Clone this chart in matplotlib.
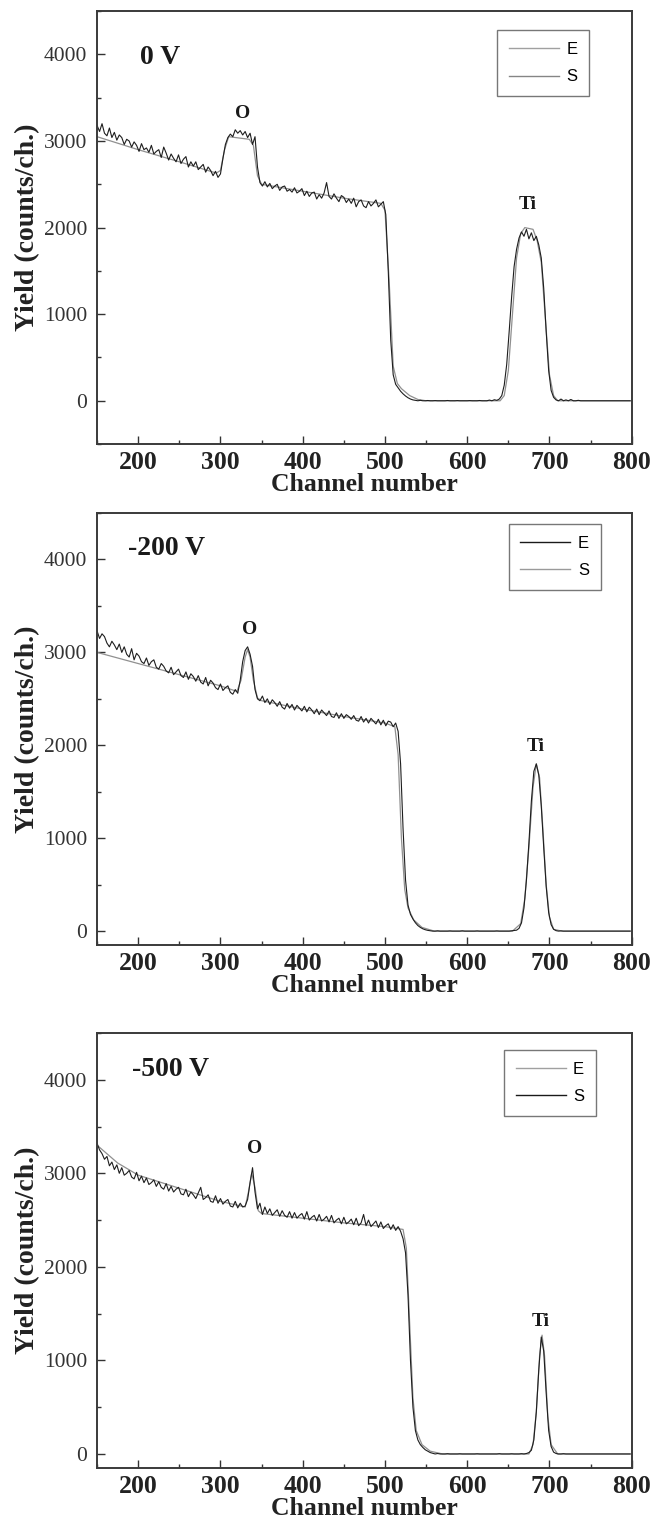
import numpy as np
import matplotlib
matplotlib.use('Agg')
from matplotlib import pyplot as plt
from matplotlib.lines import Line2D
from matplotlib.ticker import MultipleLocator

# Measured spectra (E), one value every 3 channels from 150 to 798
channels = np.arange(150, 801, 3)

exp_0v = [
    3180, 3110, 3200, 3090, 3060, 3150, 3040, 3100, 3010, 3070,
    3040, 2960, 3020, 3000, 2930, 2990, 2950, 2880, 2970, 2900,
    2920, 2870, 2950, 2850, 2880, 2900, 2810, 2930, 2860, 2780,
    2850, 2800, 2760, 2840, 2740, 2790, 2820, 2700, 2760, 2710,
    2760, 2670, 2700, 2730, 2640, 2700, 2660, 2600, 2650, 2580,
    2620, 2800, 2960, 3040, 3080, 3050, 3130, 3090, 3120, 3070,
    3110, 3040, 3090, 2960, 3050, 2700, 2520, 2480, 2530, 2470,
    2510, 2450, 2480, 2500, 2430, 2470, 2480, 2420, 2440, 2410,
    2460, 2400, 2420, 2450, 2370, 2420, 2360, 2400, 2410, 2330,
    2380, 2340, 2400, 2520, 2360, 2330, 2390, 2340, 2300, 2370,
    2350, 2290, 2330, 2280, 2340, 2240, 2300, 2320, 2250, 2230,
    2300, 2250, 2280, 2320, 2240, 2270, 2300, 2150, 1500, 700,
    300, 190, 150, 110, 80, 55, 35, 20, 10, 5,
    0, 5, 0, 0, 3, 0, 0, 2, 0, 0,
    0, 0, 3, 0, 0, 0, 2, 0, 0, 0,
    0, 2, 0, 0, 0, 3, 0, 0, 0, 8,
    0, 12, 5, 20, 60, 180, 420, 800, 1200, 1550,
    1750, 1880, 1950, 1900, 1980, 1870, 1940, 1850, 1900, 1800,
    1650, 1300, 800, 350, 120, 40, 10, 0, 20, 0,
    10, 0, 15, 0, 0, 5, 0, 0, 0, 0,
    0, 0, 0, 0, 0, 0, 0, 0, 0, 0,
    0, 0, 0, 0, 0, 0, 0,
]

exp_200v = [
    3230, 3150, 3200, 3170, 3100, 3060, 3120, 3080, 3030, 3090,
    3000, 3060, 2980, 2950, 3040, 2920, 2990, 2960, 2900, 2880,
    2940, 2860, 2900, 2920, 2840, 2820, 2880, 2850, 2800, 2780,
    2840, 2760, 2790, 2820, 2750, 2730, 2790, 2710, 2770, 2740,
    2690, 2750, 2680, 2660, 2730, 2640, 2700, 2670, 2620, 2600,
    2660, 2590, 2620, 2640, 2570, 2550, 2600, 2560, 2700, 2900,
    3020, 3060, 2980, 2850, 2600, 2500, 2480, 2530, 2460, 2500,
    2440, 2490, 2460, 2420, 2470, 2410, 2390, 2450, 2400, 2440,
    2380, 2430, 2400, 2370, 2420, 2360, 2410, 2380, 2340, 2390,
    2330, 2380, 2350, 2320, 2370, 2310, 2300, 2350, 2290, 2340,
    2290, 2330, 2310, 2280, 2320, 2270, 2260, 2310, 2250, 2290,
    2240, 2290, 2260, 2230, 2280, 2220, 2270, 2210, 2260, 2250,
    2200, 2240, 2150, 1800, 1100, 550, 280, 180, 130, 90,
    60, 40, 25, 15, 8, 4, 0, 0, 3, 0,
    0, 0, 0, 2, 0, 0, 0, 0, 3, 0,
    0, 0, 0, 0, 2, 0, 0, 0, 0, 0,
    0, 0, 2, 0, 0, 0, 0, 0, 3, 5,
    10, 30, 90, 250, 550, 950, 1400, 1720, 1800, 1680,
    1350, 900, 480, 200, 70, 20, 5, 0, 3, 0,
    0, 0, 0, 0, 0, 0, 0, 0, 0, 0,
    0, 0, 0, 0, 0, 0, 0, 0, 0, 0,
    0, 0, 0, 0, 0, 0, 0,
]

exp_500v = [
    3320, 3250, 3210, 3150, 3180, 3080, 3120, 3040, 3090, 3000,
    3060, 2980, 3000, 3030, 2960, 2940, 3010, 2920, 2970, 2900,
    2950, 2880, 2900, 2930, 2860, 2910, 2850, 2830, 2890, 2810,
    2860, 2800, 2830, 2850, 2780, 2770, 2830, 2750, 2800, 2770,
    2730, 2790, 2850, 2720, 2740, 2770, 2700, 2690, 2760, 2680,
    2730, 2670, 2700, 2720, 2650, 2640, 2700, 2630, 2680, 2640,
    2650, 2720, 2900, 3060, 2800, 2620, 2680, 2560, 2640, 2570,
    2620, 2550, 2580, 2610, 2540, 2600, 2550, 2530, 2590, 2520,
    2580, 2520, 2550, 2570, 2510, 2590, 2500, 2530, 2550, 2490,
    2560, 2490, 2510, 2540, 2480, 2550, 2470, 2500, 2520, 2460,
    2530, 2460, 2480, 2510, 2450, 2520, 2440, 2470, 2560, 2440,
    2500, 2430, 2460, 2490, 2420, 2480, 2410, 2440, 2460, 2400,
    2450, 2390, 2430, 2380, 2300, 2150, 1700, 1000, 500, 250,
    150, 100, 70, 45, 30, 15, 8, 0, 5, 0,
    0, 0, 3, 0, 0, 0, 0, 2, 0, 0,
    0, 0, 0, 0, 2, 0, 0, 0, 0, 0,
    0, 0, 0, 3, 0, 0, 0, 0, 2, 0,
    0, 0, 3, 0, 5, 15, 40, 150, 450, 900,
    1250, 1100, 650, 250, 80, 20, 5, 0, 0, 3,
    0, 0, 0, 0, 0, 0, 0, 0, 0, 0,
    0, 0, 0, 0, 0, 0, 0, 0, 0, 0,
    0, 0, 0, 0, 0, 0, 0,
]

# Simulated spectra (S)
sim_0v_ch = [150, 200, 250, 295, 300, 305, 310, 335, 340, 345, 350, 400, 450, 495,
             500, 505, 510, 515, 520, 530, 540, 550, 640, 645, 650, 655, 660, 665,
             670, 680, 685, 690, 695, 700, 705, 710, 800]
sim_0v = [3050, 2900, 2760, 2630, 2660, 2900, 3050, 3020, 2950, 2600, 2500, 2420, 2340, 2280,
          2200, 1400, 400, 200, 140, 60, 15, 0, 0, 60, 350, 1000, 1650, 1930,
          2000, 1980, 1850, 1600, 950, 300, 60, 0, 0]

sim_200v_ch = [150, 200, 250, 300, 320, 325, 330, 333, 336, 340, 345, 350, 400, 450,
               500, 512, 516, 520, 524, 528, 535, 545, 560, 655, 665, 670, 675, 680,
               684, 688, 692, 696, 700, 705, 715, 800]
sim_200v = [3000, 2880, 2760, 2640, 2580, 2700, 2950, 3030, 2950, 2700, 2510, 2480, 2390, 2310,
            2240, 2200, 1900, 1000, 450, 250, 120, 40, 0, 0, 80, 350, 900, 1550,
            1800, 1650, 1100, 500, 150, 20, 0, 0]

sim_500v_ch = [150, 175, 200, 250, 300, 330, 334, 338, 342, 346, 350, 400, 450, 500,
               522, 526, 530, 534, 538, 545, 555, 570, 675, 680, 684, 688, 691, 694,
               698, 702, 710, 800]
sim_500v = [3300, 3110, 2980, 2840, 2700, 2640, 2800, 3000, 2850, 2600, 2570, 2520, 2470, 2430,
            2400, 2200, 1400, 600, 250, 100, 30, 0, 0, 100, 450, 1050, 1270, 1050,
            400, 100, 0, 0]

bias_labels = ['0 V', '-200 V', '-500 V']
o_label_pos = [(327, 3320), (335, 3250), (341, 3260)]
ti_label_pos = [(673, 2270), (683, 1990), (689, 1420)]
y_lower = [-500, -150, -150]

panels = [
    (exp_0v, sim_0v_ch, sim_0v),
    (exp_200v, sim_200v_ch, sim_200v),
    (exp_500v, sim_500v_ch, sim_500v),
]

# Layout (figure fractions) and legend styling per panel
axes_rects = [
    [0.148, 0.7090, 0.815, 0.2837],
    [0.148, 0.3807, 0.815, 0.2831],
    [0.148, 0.0380, 0.815, 0.2851],
]
legend_anchor = [(0.748, 0.956), (0.770, 0.975), (0.761, 0.961)]
legend_colors = [('#a0a0a0', '#858585'), ('#1a1a1a', '#9a9a9a'), ('#a0a0a0', '#1a1a1a')]
bias_label_y = [0.894, 0.917, 0.917]
bias_label_x = [0.080, 0.058, 0.065]

serif = 'Liberation Serif'
fig = plt.figure(figsize=(6.56, 15.26), dpi=100)

for i, (exp, sim_ch, sim) in enumerate(panels):
    ax = fig.add_axes(axes_rects[i])
    ax.plot(sim_ch, sim, color='#909090', lw=0.9)
    ax.plot(channels, exp, color='#1e1e1e', lw=0.8)

    ax.set_xlim(150, 800)
    ax.set_ylim(y_lower[i], 4500)
    ax.xaxis.set_major_locator(MultipleLocator(100))
    ax.xaxis.set_minor_locator(MultipleLocator(50))
    ax.yaxis.set_major_locator(MultipleLocator(1000))
    ax.yaxis.set_minor_locator(MultipleLocator(500))
    ax.set_yticks([0, 1000, 2000, 3000, 4000])
    ax.tick_params(which='both', direction='in', top=False, right=False, color='#333333')
    ax.tick_params(which='major', length=6, width=1.0)
    ax.tick_params(which='minor', length=3, width=1.0)
    ax.tick_params(axis='x', pad=5)
    ax.tick_params(axis='y', pad=7)
    for lab in ax.get_xticklabels():
        lab.set_fontfamily(serif)
        lab.set_fontweight('bold')
        lab.set_fontsize(18.5)
        lab.set_color('#222222')
    for lab in ax.get_yticklabels():
        lab.set_fontfamily(serif)
        lab.set_fontsize(15.5)
        lab.set_color('#333333')
    for sp in ax.spines.values():
        sp.set_linewidth(1.4)
        sp.set_color('#3a3a3a')

    ax.set_xlabel('Channel number', fontfamily=serif, fontweight='bold', fontsize=18.5,
                  labelpad=-1, color='#222222')
    ax.set_ylabel('Yield (counts/ch.)', fontfamily=serif, fontweight='bold', fontsize=20,
                  labelpad=3, color='#222222')

    ax.text(bias_label_x[i], bias_label_y[i], bias_labels[i], transform=ax.transAxes,
            fontfamily=serif, fontweight='bold', fontsize=20, ha='left', va='center',
            color='#1a1a1a')
    ax.text(*o_label_pos[i], 'O', fontfamily=serif, fontweight='bold', fontsize=14,
            ha='center', va='center', color='#1a1a1a')
    ax.text(*ti_label_pos[i], 'Ti', fontfamily=serif, fontweight='bold', fontsize=14,
            ha='center', va='center', color='#1a1a1a')

    handles = [Line2D([], [], color=legend_colors[i][0], lw=1.0),
               Line2D([], [], color=legend_colors[i][1], lw=1.0)]
    leg = ax.legend(handles, ['E', 'S'], loc='upper left', bbox_to_anchor=legend_anchor[i],
                    borderaxespad=0, frameon=True, fancybox=False, handlelength=3.0,
                    handletextpad=0.45, labelspacing=0.75, borderpad=0.7,
                    prop={'family': 'Liberation Sans', 'size': 12})
    leg.get_frame().set_edgecolor('#555555')
    leg.get_frame().set_linewidth(1.0)

fig.savefig('out.png', dpi=100)
